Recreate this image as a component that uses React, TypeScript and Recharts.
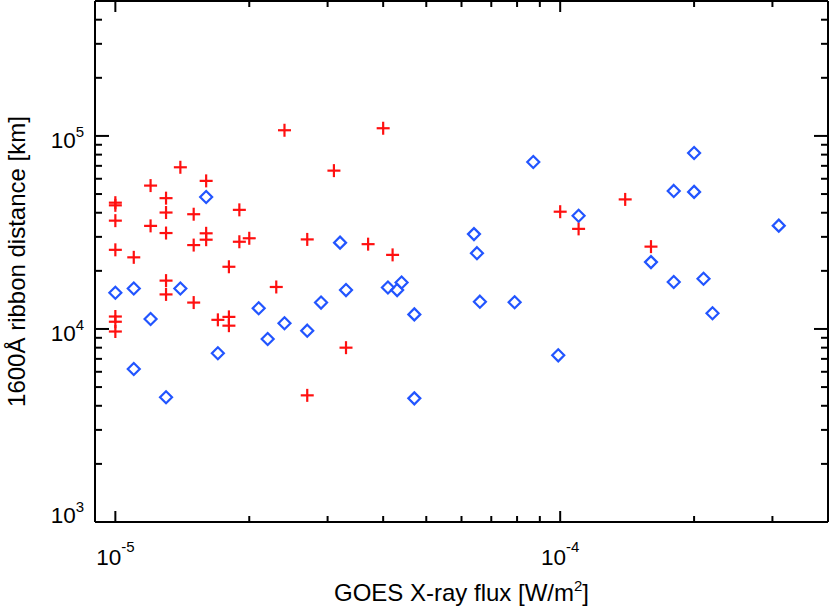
import React from 'react';
import { ScatterChart, Scatter, XAxis, YAxis } from 'recharts';

const CHART_W = 830;
const CHART_H = 608;
const FONT = "'Liberation Sans', Arial, Helvetica, sans-serif";

// Red crosses: GOES flux [W/m^2] and 1600Å ribbon distance [km]
const crossFlux = [
  1.0e-5, 1.0e-5, 1.0e-5, 1.0e-5, 1.0e-5, 1.0e-5, 1.0e-5,
  1.1e-5,
  1.2e-5, 1.2e-5,
  1.3e-5, 1.3e-5, 1.3e-5, 1.3e-5, 1.3e-5,
  1.4e-5,
  1.5e-5, 1.5e-5, 1.5e-5,
  1.6e-5, 1.6e-5, 1.6e-5,
  1.7e-5,
  1.8e-5, 1.8e-5, 1.8e-5,
  1.9e-5, 1.9e-5,
  2.0e-5,
  2.3e-5,
  2.4e-5,
  2.7e-5, 2.7e-5,
  3.1e-5,
  3.3e-5,
  3.7e-5,
  4.0e-5,
  4.2e-5,
  1.0e-4,
  1.1e-4,
  1.4e-4,
  1.6e-4,
];
const crossDist = [
  45100, 43700, 36400, 25700, 11600, 10900, 9700,
  23500,
  55300, 34200,
  47600, 40100, 31400, 17800, 15100,
  68800,
  39300, 27200, 13700,
  58500, 31300, 29000,
  11150,
  21000, 11550, 10400,
  41400, 28300,
  29500,
  16500,
  107000,
  29100, 4530,
  66100,
  8000,
  27500,
  109600,
  24200,
  40500,
  33000,
  46900,
  26700,
];

// Blue diamonds
const diamondFlux = [
  1.0e-5, 1.1e-5, 1.1e-5, 1.2e-5, 1.3e-5, 1.4e-5, 1.6e-5, 1.7e-5,
  2.1e-5, 2.2e-5, 2.4e-5, 2.7e-5, 2.9e-5, 3.2e-5, 3.3e-5,
  4.1e-5, 4.3e-5, 4.4e-5, 4.7e-5, 4.7e-5,
  6.4e-5, 6.5e-5, 6.6e-5, 7.9e-5, 8.7e-5, 9.9e-5,
  1.1e-4, 1.6e-4, 1.8e-4, 1.8e-4, 2.0e-4, 2.0e-4, 2.1e-4, 2.2e-4, 3.1e-4,
];
const diamondDist = [
  15400, 16200, 6200, 11270, 4430, 16200, 48300, 7480,
  12800, 8870, 10700, 9800, 13700, 28000, 15900,
  16400, 15900, 17400, 11900, 4370,
  31000, 24700, 13850, 13750, 73300, 7300,
  38600, 22200, 51900, 17500, 81600, 51300, 18200, 12060, 34300,
];

const xDomain = [9e-6, 4e-4];
const yDomain = [1e3, 5e5];

const xMajorTicks = [1e-5, 1e-4];
const xMajorExp = ['-5', '-4'];
const xMinorTicks = [2e-5, 3e-5, 4e-5, 5e-5, 6e-5, 7e-5, 8e-5, 9e-5, 2e-4, 3e-4];

const yMajorTicks = [1e3, 1e4, 1e5];
const yMajorExp = ['3', '4', '5'];
const yMinorTicks = [
  2e3, 3e3, 4e3, 5e3, 6e3, 7e3, 8e3, 9e3,
  2e4, 3e4, 4e4, 5e4, 6e4, 7e4, 8e4, 9e4,
  2e5, 3e5, 4e5,
];

const xAllTicks = [...xMajorTicks, ...xMinorTicks].sort((a, b) => a - b);
const yAllTicks = [...yMajorTicks, ...yMinorTicks].sort((a, b) => a - b);

const crossData = crossFlux.map((f, i) => ({ x: f, y: crossDist[i] }));
const diamondData = diamondFlux.map((f, i) => ({ x: f, y: diamondDist[i] }));

const majorIndex = (list: number[], v: number) =>
  list.findIndex((m) => Math.abs(v - m) / m < 1e-6);

const RED = '#ff1010';
const BLUE = '#2255ff';

const makeXTick = (side: 'bottom' | 'top') => (props: any) => {
  const { x, y, payload } = props;
  const v = payload.value;
  const mi = majorIndex(xMajorTicks, v);
  const len = mi >= 0 ? 11 : 6;
  const dir = side === 'bottom' ? -1 : 1;
  return (
    <g>
      <line x1={x} x2={x} y1={y} y2={y + dir * len} stroke="#000" strokeWidth={2} />
      {side === 'bottom' && mi >= 0 && (
        <text x={x} y={y + 43} textAnchor="middle" fontFamily={FONT} fill="#000">
          <tspan fontSize={22.5}>10</tspan>
          <tspan fontSize={15} dy={-13}>{xMajorExp[mi]}</tspan>
        </text>
      )}
    </g>
  );
};

const makeYTick = (side: 'left' | 'right') => (props: any) => {
  const { x, y, payload } = props;
  const v = payload.value;
  const mi = majorIndex(yMajorTicks, v);
  const len = mi >= 0 ? 14 : 7;
  const dir = side === 'left' ? 1 : -1;
  const base = mi === 0 ? 1 : 12;
  return (
    <g>
      <line x1={x} x2={x + dir * len} y1={y} y2={y} stroke="#000" strokeWidth={2} />
      {side === 'left' && mi >= 0 && (
        <text x={x - 11} y={y + base} textAnchor="end" fontFamily={FONT} fill="#000">
          <tspan fontSize={22.5}>10</tspan>
          <tspan fontSize={15} dy={-11}>{yMajorExp[mi]}</tspan>
        </text>
      )}
    </g>
  );
};

const XTitle = (props: any) => {
  const vb = props.viewBox || { x: 95, y: 522, width: 733, height: 1 };
  return (
    <text
      x={vb.x + vb.width / 2}
      y={522 + 79}
      textAnchor="middle"
      fontFamily={FONT}
      fontSize={24}
      fill="#000"
    >
      GOES X-ray flux [W/m
      <tspan fontSize={15} dy={-10}>2</tspan>
      <tspan dy={10}>]</tspan>
    </text>
  );
};

const YTitle = (props: any) => {
  const vb = props.viewBox || { x: 94, y: 1, width: 1, height: 521 };
  const cx = 25;
  const cy = vb.y + vb.height / 2;
  return (
    <text
      x={cx}
      y={cy}
      transform={`rotate(-90, ${cx}, ${cy})`}
      textAnchor="middle"
      fontFamily={FONT}
      fontSize={24}
      fill="#000"
    >
      1600Å ribbon distance [km]
    </text>
  );
};

const CrossShape = (props: any) => {
  const { cx, cy } = props;
  if (cx == null || cy == null) return null;
  return (
    <g>
      <line x1={cx - 6.5} x2={cx + 6.5} y1={cy} y2={cy} stroke={RED} strokeWidth={2.2} />
      <line x1={cx} x2={cx} y1={cy - 6.5} y2={cy + 6.5} stroke={RED} strokeWidth={2.2} />
    </g>
  );
};

const DiamondShape = (props: any) => {
  const { cx, cy } = props;
  if (cx == null || cy == null) return null;
  const r = 6;
  return (
    <path
      d={`M${cx},${cy - r} L${cx + r},${cy} L${cx},${cy + r} L${cx - r},${cy} Z`}
      fill="none"
      stroke={BLUE}
      strokeWidth={2.2}
    />
  );
};

const axisLineStyle = { stroke: '#000', strokeWidth: 2 };

export default function App() {
  return (
    <div style={{ position: 'absolute', left: 0, top: 0, width: CHART_W, height: CHART_H, background: '#fff' }}>
      <ScatterChart
        width={CHART_W}
        height={CHART_H}
        margin={{ top: 0, right: 1, bottom: 85, left: 94 }}
      >
        <XAxis
          xAxisId="b"
          type="number"
          dataKey="x"
          scale="log"
          domain={xDomain}
          allowDataOverflow
          ticks={xAllTicks}
          interval={0}
          height={1}
          tickSize={0}
          tickMargin={0}
          tickLine={false}
          axisLine={axisLineStyle}
          tick={makeXTick('bottom')}
          label={{ content: XTitle }}
        />
        <XAxis
          xAxisId="t"
          orientation="top"
          type="number"
          dataKey="x"
          scale="log"
          domain={xDomain}
          allowDataOverflow
          ticks={xAllTicks}
          interval={0}
          height={1}
          tickSize={0}
          tickMargin={0}
          tickLine={false}
          axisLine={axisLineStyle}
          tick={makeXTick('top')}
        />
        <YAxis
          yAxisId="l"
          type="number"
          dataKey="y"
          scale="log"
          domain={yDomain}
          allowDataOverflow
          ticks={yAllTicks}
          interval={0}
          width={1}
          tickSize={0}
          tickMargin={0}
          tickLine={false}
          axisLine={axisLineStyle}
          tick={makeYTick('left')}
          label={{ content: YTitle }}
        />
        <YAxis
          yAxisId="r"
          orientation="right"
          type="number"
          dataKey="y"
          scale="log"
          domain={yDomain}
          allowDataOverflow
          ticks={yAllTicks}
          interval={0}
          width={1}
          tickSize={0}
          tickMargin={0}
          tickLine={false}
          axisLine={axisLineStyle}
          tick={makeYTick('right')}
        />
        <Scatter
          xAxisId="b"
          yAxisId="l"
          data={crossData}
          shape={CrossShape}
          isAnimationActive={false}
        />
        <Scatter
          xAxisId="b"
          yAxisId="l"
          data={diamondData}
          shape={DiamondShape}
          isAnimationActive={false}
        />
      </ScatterChart>
    </div>
  );
}
